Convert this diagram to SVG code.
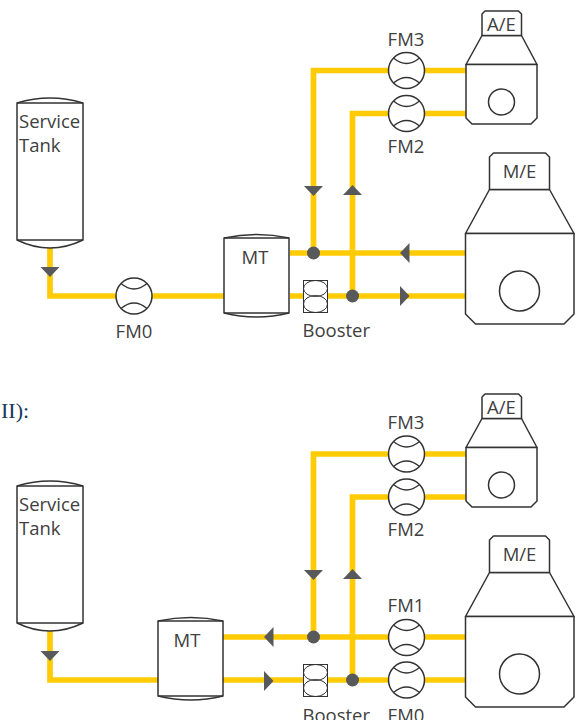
<svg xmlns="http://www.w3.org/2000/svg" width="584" height="720" viewBox="0 0 584 720">
<style>
.l{fill:#fff;stroke:#333;stroke-width:1.5;stroke-linejoin:round}
.n{fill:none;stroke:#333;stroke-width:1.3}
.b{fill:none;stroke:#333;stroke-width:1}
.p{fill:none;stroke:#ffcb05;stroke-width:5.700}
.t{font-family:"Open Sans","Noto Sans",sans-serif;font-size:18.500px;fill:#404040}
.a{fill:#58595b}
</style>
<defs>
<g id="fm"><circle class="l" r="18"/><path class="n" d="M-13-12.500Q0-1.500 13-12.500M-13 12.500Q0 1.500 13 12.500"/></g>
<g id="booster"><rect x="0" y="0" width="24" height="32" fill="#fff" stroke="#333" stroke-width="1"/><ellipse cx="12" cy="8" rx="12" ry="8" class="b"/><ellipse cx="12" cy="23.500" rx="12" ry="8.500" class="b"/></g>
<path id="ad" class="a" d="M-9.500 0H9.500L0 10Z"/>
<path id="au" class="a" d="M-9.500 10H9.500L0 0Z"/>
<path id="al" class="a" d="M9.500-10V10L0 0Z"/>
<path id="ar" class="a" d="M0-10V10L9.500 0Z"/>
<g id="tank"><path class="l" d="M17 103Q50 93 83 103V240Q50 256 17 240Z"/><path class="n" d="M17 103H83M17 240H83"/></g>
<g id="mt"><path class="l" d="M0 4Q33-3 65 4V79Q33 87 0 79Z"/><path class="n" d="M0 4H65M0 79H65"/></g>
<g id="ae"><path class="l" d="M466 64.500L482 35.500H521.500L537 64.500Z"/><path class="l" d="M466 64.500H537V118L531 124H472L466 118Z"/><path class="l" d="M482 35.500V14L485 11H518.500L521.500 14V35.500Z"/><circle class="l" cx="501.500" cy="102" r="13"/></g>
<g id="me"><path class="l" d="M465.500 233.500L489.500 189.500H549.500L574 233.500Z"/><path class="l" d="M465.500 233.500H574V314L564 324H475.500L465.500 314Z"/><path class="l" d="M489.500 189.500V157L493.500 153H545.500L549.500 157V189.500Z"/><circle class="l" cx="519.500" cy="291" r="20"/></g>
</defs>
<g id="connectors">
<path class="p" d="M466 70.500H313.500V253M466 113.500H352.500V296"/>
<path class="p" d="M290 253H466M290 296H466M50 248V296H224"/>
<use href="#ad" x="313.500" y="186"/><use href="#au" x="352.500" y="185"/>
<use href="#al" x="400" y="253"/><use href="#ar" x="400" y="296"/>
<use href="#ad" x="50" y="267"/>
<circle class="a" cx="313.500" cy="253" r="6.500"/><circle class="a" cx="352.500" cy="296" r="6.500"/>
<path class="p" d="M466 454H313.500V637M466 497H352.500V680"/>
<path class="p" d="M223 637H466M223 680H466M50 631V680H158"/>
<use href="#ad" x="313.500" y="570"/><use href="#au" x="352.500" y="569"/>
<use href="#al" x="264" y="637"/><use href="#ar" x="264" y="681"/>
<use href="#ad" x="50" y="651"/>
<circle class="a" cx="313.500" cy="637" r="6.500"/><circle class="a" cx="352.500" cy="680" r="6.500"/>
</g>
<g id="tank1"><use href="#tank"/><text class="t" x="19" y="128">Service</text><text class="t" x="19" y="152">Tank</text></g>
<g id="fm0-1"><use href="#fm" x="134" y="296"/><text class="t" x="134" y="338" text-anchor="middle">FM0</text></g>
<g id="mt1"><use href="#mt" x="224" y="234"/><text class="t" x="255" y="264" text-anchor="middle">MT</text></g>
<g id="booster1"><use href="#booster" x="303.500" y="280.500"/><text class="t" x="302.500" y="337">Booster</text></g>
<g id="fm3-1"><use href="#fm" x="406.500" y="70.500"/><text class="t" x="406" y="46" text-anchor="middle">FM3</text></g>
<g id="fm2-1"><use href="#fm" x="406.500" y="113.500"/><text class="t" x="406" y="153" text-anchor="middle">FM2</text></g>
<g id="ae1"><use href="#ae"/><text class="t" x="501.500" y="31" text-anchor="middle">A/E</text></g>
<g id="me1"><use href="#me"/><text class="t" x="519.500" y="178" text-anchor="middle">M/E</text></g>
<text id="heading" x="1" y="418" font-family="'Liberation Serif',serif" font-size="22" fill="#17375e">II):</text>
<g id="tank2"><use href="#tank" y="383"/><text class="t" x="19" y="511">Service</text><text class="t" x="19" y="535">Tank</text></g>
<g id="mt2"><use href="#mt" x="158" y="617"/><text class="t" x="187" y="647" text-anchor="middle">MT</text></g>
<g id="booster2"><use href="#booster" x="303.500" y="664.500"/><text class="t" x="302.500" y="722">Booster</text></g>
<g id="fm3-2"><use href="#fm" x="406.500" y="454"/><text class="t" x="406" y="429" text-anchor="middle">FM3</text></g>
<g id="fm2-2"><use href="#fm" x="406.500" y="497"/><text class="t" x="406" y="536" text-anchor="middle">FM2</text></g>
<g id="fm1-2"><use href="#fm" x="406.500" y="637.500"/><text class="t" x="406" y="612" text-anchor="middle">FM1</text></g>
<g id="fm0-2"><use href="#fm" x="406.500" y="680"/><text class="t" x="406" y="722" text-anchor="middle">FM0</text></g>
<g id="ae2"><use href="#ae" y="383"/><text class="t" x="501.500" y="414" text-anchor="middle">A/E</text></g>
<g id="me2"><use href="#me" y="383"/><text class="t" x="519.500" y="561" text-anchor="middle">M/E</text></g>
</svg>
